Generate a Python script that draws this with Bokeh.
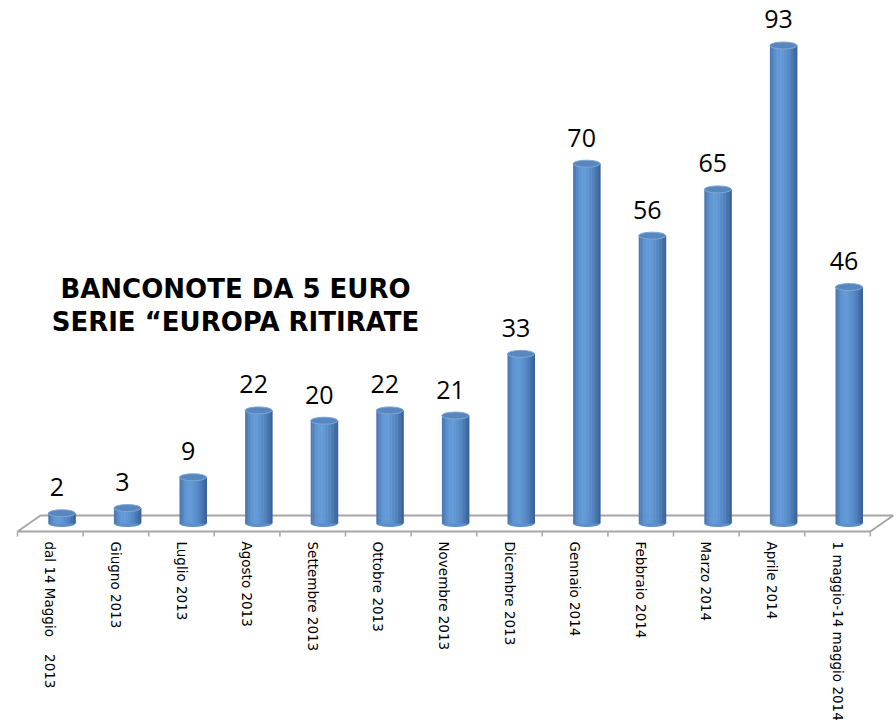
import numpy as np
from bokeh.plotting import figure
from bokeh.models import Range1d, ColumnDataSource
from bokeh.core.properties import value
from bokeh.embed import file_html
from bokeh.resources import INLINE

categories = ["dal 14 Maggio\u00a0\u00a0\u00a0\u00a02013", "Giugno 2013", "Luglio 2013", "Agosto 2013",
              "Settembre 2013", "Ottobre 2013", "Novembre 2013", "Dicembre 2013",
              "Gennaio 2014", "Febbraio 2014", "Marzo 2014", "Aprile 2014",
              "1 maggio-14 maggio 2014"]
counts = [2, 3, 9, 22, 20, 22, 21, 33, 70, 56, 65, 93, 46]
title_lines = ["BANCONOTE DA 5 EURO", "SERIE \u201cEUROPA RITIRATE"]

W, H = 896, 728
px_x = 65.6      # pixels per category
px_y = 5.14      # pixels per unit
x0 = -49.8 / px_x
y_top = 523 / px_y
p = figure(width=W, height=H, output_backend="svg", toolbar_location=None,
           x_range=Range1d(x0, x0 + W / px_x),
           y_range=Range1d(y_top - H / px_y, y_top),
           x_axis_location=None, y_axis_location=None, min_border=0)
p.grid.visible = False
p.outline_line_color = None
p.background_fill_color = "white"
p.border_fill_color = "white"

N = len(categories)
idx = np.arange(N)
dx = 23 / px_x       # depth offset x
dy = 16 / px_y       # depth offset y
front = -dy / 2
back = dy / 2

# floor
fx = [-0.5, N - 0.5, N - 0.5 + dx, -0.5 + dx, -0.5]
fy = [front, front, back, back, front]
p.line(fx, fy, line_color="#a6a6a6", line_width=2)
b = np.arange(N + 1) - 0.5
p.segment(x0=b, y0=[front] * (N + 1), x1=b, y1=[front - 5 / px_y] * (N + 1),
          line_color="#a6a6a6", line_width=1.5)

# cylinders
cx = idx + dx / 2
bw = 27 / px_x
vals = np.array(counts, dtype=float)
stops_t = [-1.0, -0.55, -0.15, 0.45, 1.0]
stops_c = np.array([[72, 116, 172], [96, 150, 212], [100, 156, 216], [84, 134, 194], [56, 96, 150]])
nstrip = 18
sw = bw / nstrip
p.ellipse(x=cx, y=np.zeros(N), width=bw, height=7 / px_y,
          fill_color="#5a8fcc", line_color=None)
for k in range(nstrip):
    t = -1 + (2 * k + 1) / nstrip
    col = [int(np.interp(t, stops_t, stops_c[:, j])) for j in range(3)]
    colhex = "#%02x%02x%02x" % tuple(col)
    left = cx - bw / 2 + k * sw
    src = ColumnDataSource(dict(left=left, right=left + sw * 1.35,
                                bottom=np.zeros(N), top=vals))
    p.quad(left="left", right="right", bottom="bottom", top="top", source=src,
           fill_color=colhex, line_color=None)
p.ellipse(x=cx, y=vals, width=bw, height=7 / px_y,
          fill_color="#5886be", line_color="#7ea7d6", line_width=1)

# value labels
p.text(x=idx + 0.1, y=vals + 26 / px_y, text=[str(c) for c in counts],
       text_font=value("Open Sans"), text_font_size="25px", text_color="black",
       text_align="center", text_baseline="alphabetic")

# category labels
p.text(x=idx, y=[front - 10 / px_y] * N, text=categories, angle=-np.pi / 2,
       text_font=value("DejaVu Sans"), text_font_size="13.5px", text_color="black",
       text_align="left", text_baseline="middle")

# title
tx = (235 - 49.8) / px_x
p.text(x=[tx, tx], y=[(523 - 288) / px_y, (523 - 321) / px_y], text=title_lines,
       text_font=value("DejaVu Sans"), text_font_style="bold", text_font_size="26px",
       text_color="black", text_align="center", text_baseline="alphabetic")

open("out.html", "w").write(file_html(p, INLINE))
